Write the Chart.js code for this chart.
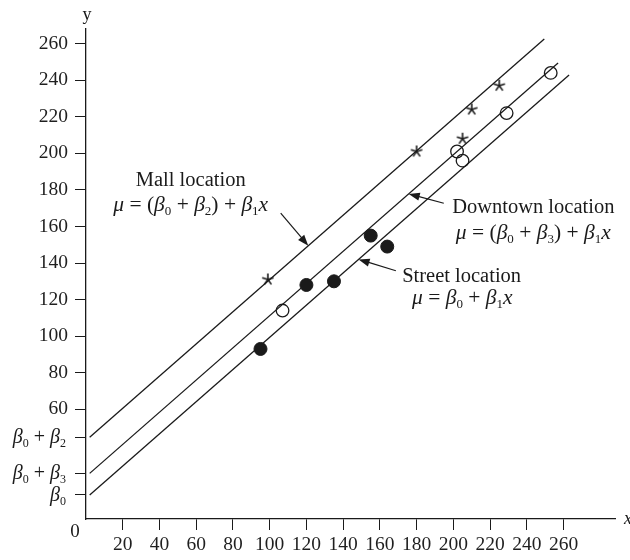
<!DOCTYPE html>
<html>
<head>
<meta charset="utf-8">
<script src="https://cdn.jsdelivr.net/npm/chart.js@4/dist/chart.umd.min.js"></script>
<style>
  html, body { margin: 0; padding: 0; background: #fff; }
</style>
</head>
<body>
<canvas id="chart" width="630" height="560"></canvas>
<script>
// Observations (x, y) for the three kinds of location
const mallPoints = [[99, 131], [180, 201], [205, 208], [210, 224], [225, 237]];
const downtownPoints = [[107, 114], [202, 201], [205, 196], [229, 222], [253, 244]];
const streetPoints = [[95, 93], [120, 128], [135, 130], [155, 155], [164, 149]];

// Parallel regression lines: common slope, shifted intercepts
const slope = 0.88;
const beta0 = 11.4;
const beta2 = 31.6;
const beta3 = 11.8;
const lineStartX = 2;
const mallEndX = 249.5;
const downtownEndX = 257;
const streetEndX = 263;

const xTicks = [20, 40, 60, 80, 100, 120, 140, 160, 180, 200, 220, 240, 260];
const yTicks = [60, 80, 100, 120, 140, 160, 180, 200, 220, 240, 260];

const SERIF = '"Liberation Serif", "Times New Roman", serif';
const INK = '#1a1a1a';

const lineAt = (b, x) => b + slope * x;
const mallB = beta0 + beta2;
const downtownB = beta0 + beta3;
const streetB = beta0;

// tick levels sit where each line meets the left edge
const betaLevels = [
  { value: lineAt(streetB, lineStartX), parts: [['β', 'i'], ['0', 's']] },
  { value: lineAt(downtownB, lineStartX), parts: [['β', 'i'], ['0', 's'], [' + ', ''], ['β', 'i'], ['3', 's']] },
  { value: lineAt(mallB, lineStartX), parts: [['β', 'i'], ['0', 's'], [' + ', ''], ['β', 'i'], ['2', 's']] }
];

const toXY = arr => arr.map(([x, y]) => ({ x, y }));
const segment = (b, x1, x2) => [{ x: x1, y: lineAt(b, x1) }, { x: x2, y: lineAt(b, x2) }];

// five-spoke asterisk used as the point style for mall stores
function makeAsterisk(r) {
  const s = Math.ceil(r * 2 + 4);
  const c = document.createElement('canvas');
  c.width = s; c.height = s;
  const g = c.getContext('2d');
  g.strokeStyle = INK;
  g.lineWidth = 1.6;
  for (let k = 0; k < 5; k++) {
    const a = -Math.PI / 2 + k * 2 * Math.PI / 5;
    g.beginPath();
    g.moveTo(s / 2, s / 2);
    g.lineTo(s / 2 + r * Math.cos(a), s / 2 + r * Math.sin(a));
    g.stroke();
  }
  return c;
}

// text runs: '' regular, 'i' italic, 's' subscript
function drawRich(ctx, parts, x, y, size, align) {
  const fontFor = st => (st === 'i' ? 'italic ' : '') + (st === 's' ? Math.round(size * 0.62) : size) + 'px ' + SERIF;
  let w = 0;
  parts.forEach(([t, st]) => { ctx.font = fontFor(st); w += ctx.measureText(t).width; });
  let cx = align === 'center' ? x - w / 2 : align === 'right' ? x - w : x;
  ctx.textAlign = 'left';
  ctx.textBaseline = 'alphabetic';
  parts.forEach(([t, st]) => {
    ctx.font = fontFor(st);
    ctx.fillText(t, cx, st === 's' ? y + size * 0.2 : y);
    cx += ctx.measureText(t).width;
  });
}

function drawArrow(ctx, x1, y1, x2, y2) {
  const a = Math.atan2(y2 - y1, x2 - x1);
  const len = 11, half = 4;
  ctx.beginPath();
  ctx.moveTo(x1, y1);
  ctx.lineTo(x2 - len * 0.8 * Math.cos(a), y2 - len * 0.8 * Math.sin(a));
  ctx.stroke();
  ctx.beginPath();
  ctx.moveTo(x2, y2);
  ctx.lineTo(x2 - len * Math.cos(a) + half * Math.sin(a), y2 - len * Math.sin(a) - half * Math.cos(a));
  ctx.lineTo(x2 - len * Math.cos(a) - half * Math.sin(a), y2 - len * Math.sin(a) + half * Math.cos(a));
  ctx.closePath();
  ctx.fill();
}

// callouts, in data units
const callouts = [
  {
    title: 'Mall location', at: [57, 182], formulaAt: [57, 168.4],
    formula: [['μ', 'i'], [' = (', ''], ['β', 'i'], ['0', 's'], [' + ', ''], ['β', 'i'], ['2', 's'], [') + ', ''], ['β', 'i'], ['1', 's'], ['x', 'i']],
    arrow: [[106, 167.3], [121, lineAt(mallB, 121)]]
  },
  {
    title: 'Downtown location', at: [243.5, 167.1], formulaAt: [243.5, 153.3],
    formula: [['μ', 'i'], [' = (', ''], ['β', 'i'], ['0', 's'], [' + ', ''], ['β', 'i'], ['3', 's'], [') + ', ''], ['β', 'i'], ['1', 's'], ['x', 'i']],
    arrow: [[194.8, 172.7], [175.7, lineAt(downtownB, 175.7)]]
  },
  {
    title: 'Street location', at: [204.5, 129.8], formulaAt: [204.9, 117.5],
    formula: [['μ', 'i'], [' = ', ''], ['β', 'i'], ['0', 's'], [' + ', ''], ['β', 'i'], ['1', 's'], ['x', 'i']],
    arrow: [[168.7, 135.8], [148.4, lineAt(streetB, 148.4)]]
  }
];

const annotationPlugin = {
  id: 'annotations',
  afterDraw(chart) {
    const { ctx, scales: { x, y } } = chart;
    ctx.save();
    ctx.fillStyle = INK;
    ctx.strokeStyle = INK;
    ctx.lineWidth = 1.2;

    // beta labels on the y axis
    betaLevels.forEach(l => drawRich(ctx, l.parts, 66, y.getPixelForValue(l.value) + 6, 20, 'right'));

    // origin and axis names
    ctx.font = '19px ' + SERIF;
    ctx.textAlign = 'center';
    ctx.textBaseline = 'alphabetic';
    ctx.fillText('0', 75, 537);
    ctx.font = '18px ' + SERIF;
    ctx.fillText('y', x.left + 1, 20);
    ctx.font = 'italic 18px ' + SERIF;
    ctx.textAlign = 'left';
    ctx.fillText('x', x.right + 9, y.bottom + 5);

    callouts.forEach(c => {
      ctx.font = '20.5px ' + SERIF;
      ctx.textAlign = 'center';
      ctx.fillText(c.title, x.getPixelForValue(c.at[0]), y.getPixelForValue(c.at[1]));
      drawRich(ctx, c.formula, x.getPixelForValue(c.formulaAt[0]), y.getPixelForValue(c.formulaAt[1]), 21.5, 'center');
      const [[ax1, ay1], [ax2, ay2]] = c.arrow;
      drawArrow(ctx, x.getPixelForValue(ax1), y.getPixelForValue(ay1), x.getPixelForValue(ax2), y.getPixelForValue(ay2));
    });
    ctx.restore();
  }
};

const lineStyle = { type: 'line', borderColor: INK, borderWidth: 1.3, pointRadius: 0, fill: false, tension: 0 };

new Chart(document.getElementById('chart'), {
  type: 'scatter',
  data: {
    datasets: [
      { label: 'Mall', data: toXY(mallPoints), pointStyle: makeAsterisk(6), pointRadius: 6 },
      { label: 'Downtown', data: toXY(downtownPoints), pointStyle: 'circle', pointRadius: 6.3,
        backgroundColor: 'rgba(0,0,0,0)', borderColor: INK, borderWidth: 1.3 },
      { label: 'Street', data: toXY(streetPoints), pointStyle: 'circle', pointRadius: 6.5,
        backgroundColor: INK, borderColor: INK, borderWidth: 1 },
      { ...lineStyle, label: 'Mall line', data: segment(mallB, lineStartX, mallEndX) },
      { ...lineStyle, label: 'Downtown line', data: segment(downtownB, lineStartX, downtownEndX) },
      { ...lineStyle, label: 'Street line', data: segment(streetB, lineStartX, streetEndX) }
    ]
  },
  options: {
    responsive: false,
    animation: false,
    layout: { padding: { top: 29, right: 15, bottom: 0, left: 0 } },
    plugins: { legend: { display: false }, tooltip: { enabled: false } },
    scales: {
      x: {
        type: 'linear', min: 0, max: 288,
        afterBuildTicks: s => { s.ticks = xTicks.map(v => ({ value: v })); },
        afterFit: s => { s.height = 41; },
        grid: { drawOnChartArea: false, drawTicks: true, tickLength: 11, color: INK, lineWidth: 1 },
        border: { display: true, color: INK, width: 1.3 },
        ticks: { color: '#1f1f1f', font: { family: SERIF, size: 19.5 }, padding: 3, maxRotation: 0, autoSkip: false }
      },
      y: {
        type: 'linear', min: 0, max: 268,
        afterBuildTicks: s => { s.ticks = betaLevels.map(l => l.value).concat(yTicks).map(v => ({ value: v })); },
        afterFit: s => { s.width = 86; },
        grid: { drawOnChartArea: false, drawTicks: true, tickLength: 11, color: INK, lineWidth: 1 },
        border: { display: true, color: INK, width: 1.3 },
        ticks: {
          color: '#1f1f1f', font: { family: SERIF, size: 19.5 }, padding: 7, autoSkip: false,
          callback: v => yTicks.includes(v) ? String(v) : ''
        }
      }
    }
  },
  plugins: [annotationPlugin]
});
</script>
</body>
</html>
